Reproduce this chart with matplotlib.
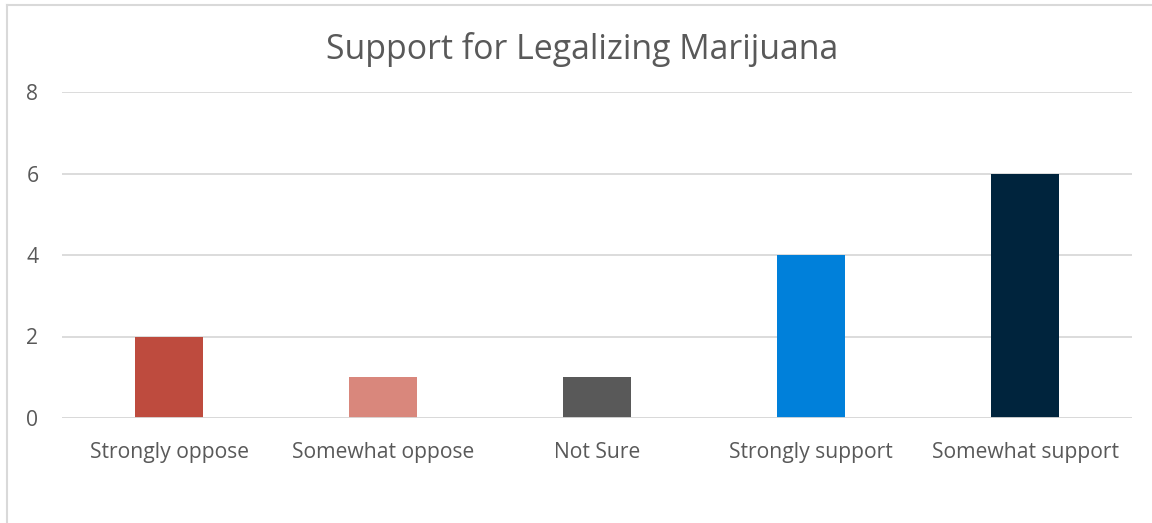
import matplotlib
matplotlib.use("Agg")
import matplotlib.pyplot as plt
from matplotlib.lines import Line2D

categories = ["Strongly oppose", "Somewhat oppose", "Not Sure", "Strongly support", "Somewhat support"]
counts = [2, 1, 1, 4, 6]
bar_colors = ["#BE4B3E", "#D9877C", "#595959", "#0080DA", "#00243D"]
y_ticks = [0, 2, 4, 6, 8]

text_color = "#595959"
grid_color = "#D9D9D9"

plt.rcParams["font.family"] = ["Open Sans", "DejaVu Sans"]

fig = plt.figure(figsize=(11.52, 5.23), dpi=100)
ax = fig.add_axes([62 / 1152, 1 - 418 / 523, 1070 / 1152, 326 / 523])

x = list(range(len(categories)))
ax.bar(x, counts, width=0.318, color=bar_colors, zorder=3)

ax.set_xlim(-0.5, len(categories) - 0.5)
ax.set_ylim(0, 8)
ax.set_yticks(y_ticks)
ax.set_xticks(x)
ax.set_xticklabels(categories)

ax.grid(axis="y", color=grid_color, linewidth=1.3, zorder=0)
ax.axhline(0, color=grid_color, linewidth=1.3, zorder=4)
for s in ax.spines.values():
    s.set_visible(False)
ax.tick_params(axis="both", length=0, labelsize=15.2, labelcolor=text_color)
ax.tick_params(axis="y", pad=17)
ax.tick_params(axis="x", pad=17)

fig.text(582 / 1152, 1 - 49 / 523, "Support for Legalizing Marijuana",
         ha="center", va="center", fontsize=24.4, color=text_color)

# Chart frame edges along the top and left
fig.add_artist(Line2D([7 / 1152, 1], [1 - 5 / 523, 1 - 5 / 523], color=grid_color, linewidth=1.5))
fig.add_artist(Line2D([7 / 1152, 7 / 1152], [0, 1 - 5 / 523], color=grid_color, linewidth=1.5))

fig.savefig("out.png", dpi=100, facecolor="white")
